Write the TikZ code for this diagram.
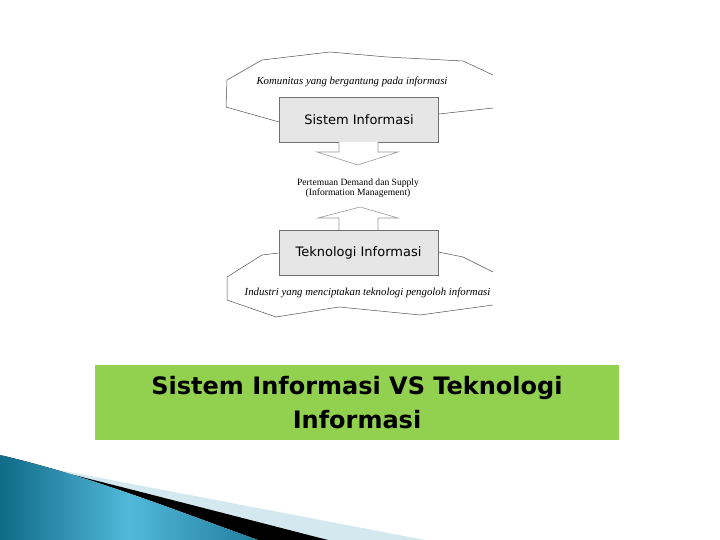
\documentclass[tikz,border=0pt]{standalone}
\usepackage{fontspec}
\setmainfont{Liberation Serif}
\newfontfamily\boxfont{DejaVu Sans}
\newfontfamily\titlefont{DejaVu Sans}
\definecolor{boxfill}{HTML}{E6E6E6}
\definecolor{boxline}{HTML}{707070}
\definecolor{cloudline}{HTML}{505050}
\definecolor{arrowline}{HTML}{9A9A9A}
\definecolor{titlegreen}{HTML}{92D050}
\definecolor{tealdark}{HTML}{106A88}
\definecolor{teallight}{HTML}{52B8DA}
\definecolor{palestripe}{HTML}{D3E8EF}
\tikzset{
  sysbox/.style={draw=boxline, fill=boxfill, line width=0.8pt, minimum width=159pt, minimum height=45pt, inner sep=0pt, font=\boxfont\fontsize{13}{15}\selectfont},
  cloud/.style={draw=cloudline, line width=0.5pt},
  arrowshape/.style={draw=arrowline, fill=white, line width=0.6pt},
  cloudtext/.style={font=\itshape\fontsize{10.8}{12}\selectfont, inner sep=0pt},
  midtext/.style={font=\fontsize{9.6}{10}\selectfont, align=center, inner sep=0pt},
  titlebox/.style={fill=titlegreen, minimum width=524pt, minimum height=75pt, inner sep=0pt, align=center, font=\titlefont\bfseries\fontsize{24}{34}\selectfont}
}
\begin{document}
\begin{tikzpicture}[x=1pt,y=-1pt]
\useasboundingbox (0,0) rectangle (720,540);
% boxes
\node[sysbox] (si) at (359,119.5) {Sistem Informasi};
\node[sysbox] (ti) at (358.5,252.5) {Teknologi Informasi};
% top cloud
\draw[cloud] (si.west |- 0,122) -- (226,107) -- (227,80) -- (262,60) -- (330,52) -- (387,57) -- (463,61) -- (493,75);
\draw[cloud] (si.east |- 0,114) -- (493,108);
\node[cloudtext] (kom) at (352,82) {Komunitas yang bergantung pada informasi};
% down arrow
\draw[arrowshape] (339,142) -- (339,152) -- (317,152) -- (358,165) -- (398,152) -- (378,152) -- (378,142);
% middle text
\node[midtext] (meet) at (358,188.5) {Pertemuan Demand dan Supply\\(Information Management)};
% up arrow
\draw[arrowshape] (339,230) -- (339,218) -- (318,218) -- (360,207) -- (398,218) -- (378,218) -- (378,230);
% bottom cloud
\draw[cloud] (ti.west |- 0,253) -- (262,255) -- (227,277) -- (227,300) -- (276,317) -- (339,307) -- (420,315) -- (493,305);
\draw[cloud] (ti.east |- 0,252) -- (463,257) -- (493,272);
\node[cloudtext] (ind) at (367.5,293) {Industri yang menciptakan teknologi pengoloh informasi};
% title
\node[titlebox] (title) at (357,402.5) {Sistem Informasi VS Teknologi\\Informasi};
% swoosh
\fill[palestripe] (38,466) -- (425,540) -- (320,540) -- cycle;
\fill[black] (34,465) .. controls (150,494) and (250,520) .. (328,540) -- (258,540) .. controls (180,512) and (90,476) .. (0,455) -- cycle;
\shade[left color=tealdark, right color=tealdark!75!teallight, middle color=teallight] (0,455) .. controls (90,476) and (180,512) .. (258,540) -- (0,540) -- cycle;
\end{tikzpicture}
\end{document}
